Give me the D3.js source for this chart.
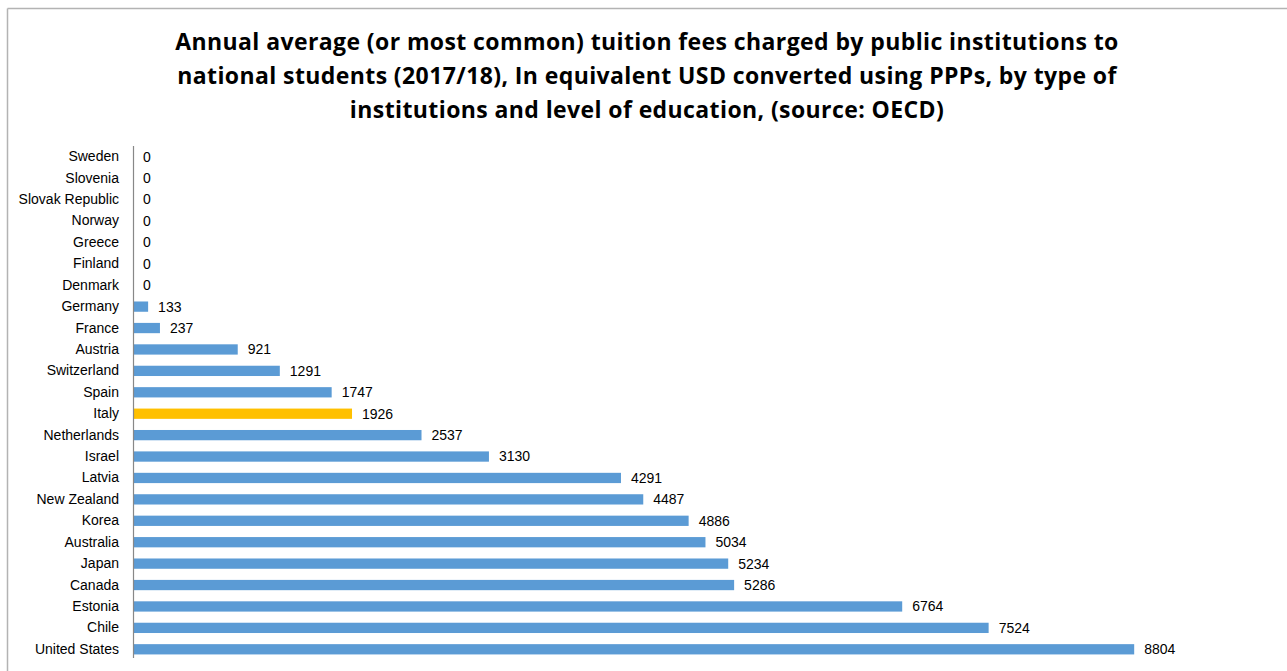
<!DOCTYPE html>
<html>
<head>
<meta charset="utf-8">
<script src="https://cdn.jsdelivr.net/npm/d3@7"></script>
<style>
  html, body { margin: 0; padding: 0; background: #fff; }
  svg { display: block; }
  text { font-family: "Liberation Sans", Arial, sans-serif; fill: #000; }
</style>
</head>
<body>
<svg id="chart" width="1287" height="671"></svg>
<script>
// Tuition fees, public institutions, national students (2017/18), USD PPP
const countries = [
  "Sweden", "Slovenia", "Slovak Republic", "Norway", "Greece", "Finland",
  "Denmark", "Germany", "France", "Austria", "Switzerland", "Spain", "Italy",
  "Netherlands", "Israel", "Latvia", "New Zealand", "Korea", "Australia",
  "Japan", "Canada", "Estonia", "Chile", "United States"
];
const fees = [
  0, 0, 0, 0, 0, 0,
  0, 133, 237, 921, 1291, 1747, 1926,
  2537, 3130, 4291, 4487, 4886, 5034,
  5234, 5286, 6764, 7524, 8804
];
const highlighted = ["Italy"];
const titleLines = [
  "Annual average (or most common) tuition fees charged by public institutions to",
  "national students (2017/18), In equivalent USD converted using PPPs, by type of",
  "institutions and level of education, (source: OECD)"
];

const svg = d3.select("#chart");
const W = 1287, H = 671;

// outer frame (top and left edges visible)
svg.append("line").attr("x1", 7.5).attr("x2", W).attr("y1", 8.5).attr("y2", 8.5)
  .attr("stroke", "#b3b3b3").attr("stroke-width", 1.5);
svg.append("line").attr("x1", 7.5).attr("x2", 7.5).attr("y1", 8.5).attr("y2", H)
  .attr("stroke", "#b3b3b3").attr("stroke-width", 1.5);

// title
const title = svg.append("text")
  .attr("text-anchor", "middle")
  .style("font-family", "'Open Sans', 'Liberation Sans', sans-serif")
  .style("font-weight", "bold")
  .style("font-size", "23px")
  .style("letter-spacing", "0.4px");
title.selectAll("tspan").data(titleLines).join("tspan")
  .attr("x", 647)
  .attr("y", (d, i) => 50 + i * 34)
  .text(d => d);

const margin = { left: 133, top: 146, bottom: 660 };

const x = d3.scaleLinear().domain([0, 9000]).range([margin.left, margin.left + 9000 * 0.11372]);
const y = d3.scaleBand().domain(countries).range([margin.top, margin.bottom]).paddingInner(0.52).paddingOuter(0.26);

const data = countries.map((c, i) => ({ country: c, value: fees[i] }));

// bars
svg.append("g").selectAll("rect").data(data).join("rect")
  .attr("x", x(0))
  .attr("y", d => y(d.country))
  .attr("width", d => x(d.value) - x(0))
  .attr("height", y.bandwidth())
  .attr("fill", d => highlighted.includes(d.country) ? "#FFC000" : "#5B9BD5");

// value labels
svg.append("g").selectAll("text").data(data).join("text")
  .attr("x", d => x(d.value) + 10)
  .attr("y", d => y(d.country) + y.bandwidth() / 2)
  .attr("dy", "0.35em")
  .style("font-size", "14px")
  .text(d => d.value);

// category axis
const axis = svg.append("g")
  .attr("transform", `translate(${margin.left},0)`)
  .call(d3.axisLeft(y).tickSize(0).tickPadding(14));
axis.select(".domain").attr("stroke", "#888").attr("stroke-width", 1.2)
  .attr("d", `M0.5,${margin.top}V${margin.bottom - 2}`);
axis.selectAll(".tick text")
  .style("font-family", "'Liberation Sans', Arial, sans-serif")
  .style("font-size", "14px")
  .attr("fill", "#000");
</script>
</body>
</html>
